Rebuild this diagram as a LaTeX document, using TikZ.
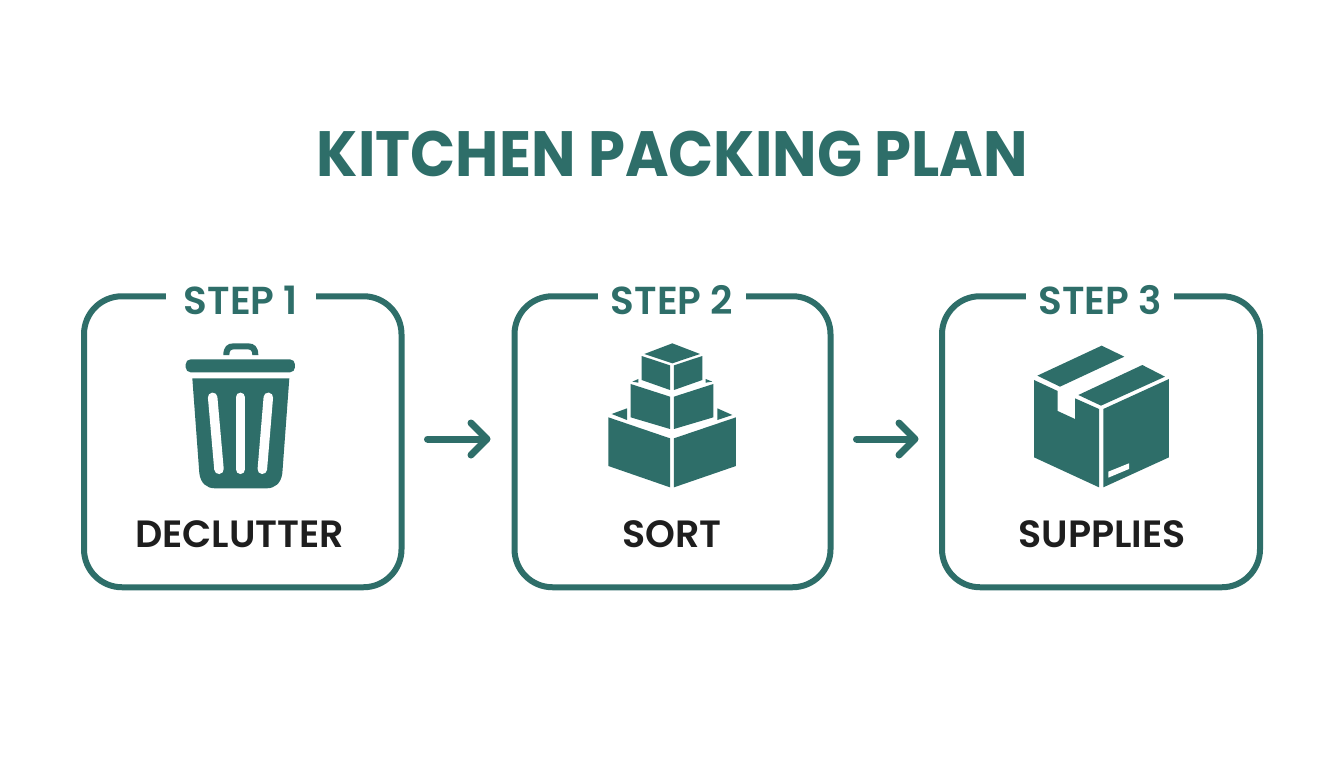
\documentclass[tikz,border=0pt]{standalone}
\usepackage{fontspec}
\setmainfont{Poppins}[BoldFont={Poppins SemiBold}]
\newfontfamily\heavyfont{Poppins}[UprightFont={Poppins Bold}]
\definecolor{teal1}{HTML}{2E6E69}
\definecolor{ink}{HTML}{1E1E1E}
\tikzset{
 frame/.style={draw=teal1,line width=6pt,rounded corners=38pt,minimum width=#1,minimum height=291pt,inner sep=0pt},
 steplabel/.style={fill=white,text=teal1,font=\fontsize{39}{39}\selectfont\bfseries,inner sep=0pt,minimum height=30pt,text depth=0pt},
 caption/.style={text=ink,font=\fontsize{38}{38}\selectfont\bfseries,inner sep=0pt},
 flow/.style={draw=teal1,line width=7pt,line cap=round,shorten >=25pt,shorten <=23pt},
 flowhead/.style={draw=teal1,line width=7pt,line cap=round,line join=round},
 icon/.style={fill=teal1,draw=none},
 hole/.style={fill=white,draw=none},
}
\begin{document}
\begin{tikzpicture}[x=1pt,y=-1pt]
\useasboundingbox (0,0) rectangle (1344,768);
\fill[white] (0,0) rectangle (1344,768);
\node[text=teal1,inner sep=0pt,font=\fontsize{64}{64}\heavyfont,xscale=0.925,transform shape] (title) at (672.5,153.5) {KITCHEN PACKING PLAN};
\node[frame=317.5pt] (f1) at (242.75,441.75) {};
\node[frame=316pt] (f2) at (672.5,441.75) {};
\node[frame=318pt] (f3) at (1101,441.75) {};
\node[steplabel,minimum width=150pt] (s1) at (241,300) {STEP 1};
\node[steplabel,minimum width=148pt] (s2) at (672,300) {STEP 2};
\node[steplabel,minimum width=148pt] (s3) at (1100,300) {STEP 3};
\node[caption] (c1) at (239.5,534) {DECLUTTER};
\node[caption] (c2) at (672,534) {SORT};
\node[caption] (c3) at (1102,534) {SUPPLIES};
\coordinate (a1) at ([yshift=2.75pt]f1.east);
\coordinate (a2) at ([yshift=2.75pt]f2.west);
\coordinate (a3) at ([yshift=2.75pt]f2.east);
\coordinate (a4) at ([yshift=2.75pt]f3.west);
\draw[flow] (a1) -- (a2);
\draw[flow] (a3) -- (a4);
\draw[flowhead] (471,423) -- (487,439) -- (471,455);
\draw[flowhead] (899,423) -- (915,439) -- (899,455);
% trash
\begin{scope}[shift={(170,330)},x=0.3333pt,y=-0.3333pt]
\fill[icon] (160,75) .. controls (160,50) and (172,40) .. (190,40) -- (235,40) .. controls (253,40) and (265,50) .. (265,75) -- (247,75) .. controls (247,62) and (242,58) .. (232,58) -- (193,58) .. controls (183,58) and (178,62) .. (178,75) -- cycle;
\fill[icon,rounded corners=5pt] (47,88) rectangle (375,127);
\fill[icon] (67,145) -- (358,145) -- (337,430) .. controls (333,460) and (315,475) .. (290,475) -- (135,475) .. controls (110,475) and (92,460) .. (88,430) -- cycle;
\draw[white,line width=9.5pt,line cap=round] (128,202) -- (147,418);
\draw[white,line width=9.5pt,line cap=round] (211,202) -- (211,418);
\draw[white,line width=9.5pt,line cap=round] (295,202) -- (277,418);
\end{scope}
% boxes
\begin{scope}[shift={(595,330)},x=0.3333pt,y=-0.3333pt]
\fill[icon] (232,40) -- (315,72) -- (232,100) -- (148,72) -- cycle;
\fill[icon] (140,78) -- (225,106) -- (225,180) -- (140,150) -- cycle;
\fill[icon] (237,106) -- (322,78) -- (322,150) -- (237,180) -- cycle;
\fill[icon] (107,162) -- (225,200) -- (225,297) -- (107,262) -- cycle;
\fill[icon] (237,200) -- (355,162) -- (355,262) -- (237,297) -- cycle;
\fill[icon] (112,155) -- (130,147) -- (130,158) -- cycle;
\fill[icon] (332,147) -- (352,155) -- (332,158) -- cycle;
\fill[icon] (50,252) -- (96,235) -- (96,270) -- cycle;
\fill[icon] (367,235) -- (412,255) -- (367,270) -- cycle;
\fill[icon] (40,262) -- (225,325) -- (225,472) -- (40,408) -- cycle;
\fill[icon] (237,325) -- (423,262) -- (423,408) -- (237,472) -- cycle;
\end{scope}
% parcel
\begin{scope}[shift={(1025,335)},x=0.3333pt,y=-0.3333pt]
\fill[icon] (37,122) -- (230,32) -- (298,65) -- (105,155) -- cycle;
\fill[icon] (352,90) -- (420,125) -- (228,212) -- (160,180) -- cycle;
\fill[icon] (27,135) -- (98,168) -- (98,228) -- (150,252) -- (150,190) -- (222,222) -- (222,457) -- (27,367) -- cycle;
\fill[icon] (235,222) -- (432,132) -- (432,367) -- (235,457) -- cycle;
\fill[hole] (250,410) -- (312,385) -- (312,402) -- (250,428) -- cycle;
\end{scope}
\end{tikzpicture}
\end{document}
